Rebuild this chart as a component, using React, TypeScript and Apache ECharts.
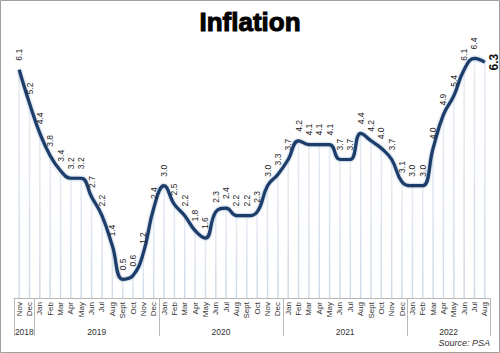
import React, { useEffect, useRef } from "react";
import * as echarts from "echarts";

const months: string[] = [
  "Nov", "Dec",
  "Jan", "Feb", "Mar", "Apr", "May", "Jun", "Jul", "Aug", "Sept", "Oct", "Nov", "Dec",
  "Jan", "Feb", "Mar", "Apr", "May", "Jun", "Jul", "Aug", "Sept", "Oct", "Nov", "Dec",
  "Jan", "Feb", "Mar", "Apr", "May", "Jun", "Jul", "Aug", "Sept", "Oct", "Nov", "Dec",
  "Jan", "Feb", "Mar", "Apr", "May", "Jun", "Jul", "Aug",
];

const inflation: number[] = [
  6.1, 5.2,
  4.4, 3.8, 3.4, 3.2, 3.2, 2.7, 2.2, 1.4, 0.5, 0.6, 1.2, 2.4,
  3.0, 2.5, 2.2, 1.8, 1.6, 2.3, 2.4, 2.2, 2.2, 2.3, 3.0, 3.3,
  3.7, 4.2, 4.1, 4.1, 4.1, 3.7, 3.7, 4.4, 4.2, 4.0, 3.7, 3.1,
  3.0, 3.0, 4.0, 4.9, 5.4, 6.1, 6.4, 6.3,
];

const years: string[] = ["2018", "2019", "2020", "2021", "2022"];
const yearCenters: number[] = [1, 8, 20, 32, 42];
const yearBoundaries: number[] = [0, 2, 14, 26, 38, 46];

export default function App() {
  const ref = useRef<HTMLDivElement>(null);
  useEffect(() => {
    if (!ref.current) return;
    const chart = echarts.init(ref.current, null, { renderer: "svg" });
    const font = "Liberation Sans, Arial, sans-serif";
    const last = inflation.length - 1;
    const lineData = inflation.map((v, i) =>
      i === last
        ? {
            value: v,
            label: {
              show: true,
              position: "right",
              rotate: 90,
              align: "center",
              verticalAlign: "middle",
              distance: 9,
              fontSize: 12,
              fontWeight: "bold",
              color: "#111",
            },
          }
        : v
    );
    chart.setOption({
      animation: false,
      backgroundColor: "#ffffff",
      title: {
        text: "Inflation",
        left: "center",
        top: 4,
        textStyle: {
          fontSize: 26,
          fontWeight: 900,
          fontFamily: font,
          color: "#000",
          textBorderColor: "#000",
          textBorderWidth: 1,
        },
      },
      grid: { left: 14, right: 10, top: 36, bottom: 55 },
      xAxis: [
        {
          type: "category",
          data: months,
          boundaryGap: true,
          axisLine: { show: true, lineStyle: { color: "#b8b8b8", width: 1 } },
          axisTick: { show: false },
          axisLabel: {
            interval: 0,
            rotate: 90,
            fontSize: 8,
            fontFamily: font,
            color: "#333",
            margin: 4,
          },
          splitLine: { show: false },
        },
        {
          type: "value",
          min: 0,
          max: 46,
          position: "bottom",
          axisLine: { show: false },
          splitLine: { show: false },
          axisTick: {
            show: true,
            customValues: yearBoundaries,
            length: 38,
            lineStyle: { color: "#b8b8b8", width: 1 },
          },
          axisLabel: {
            show: true,
            customValues: yearCenters,
            formatter: (v: number) => {
              const idx = yearCenters.indexOf(v);
              return idx >= 0 ? years[idx] : "";
            },
            fontSize: 8.5,
            fontFamily: font,
            color: "#333",
            margin: 29,
          },
        },
      ],
      yAxis: {
        type: "value",
        min: 0,
        max: 7,
        show: false,
        splitLine: { show: false },
      },
      series: [
        {
          type: "bar",
          xAxisIndex: 0,
          data: inflation,
          barWidth: 1.5,
          itemStyle: {
            color: new echarts.graphic.LinearGradient(0, 0, 0, 1, [
              { offset: 0, color: "#e6ecf3" },
              { offset: 1, color: "#cfdae6" },
            ]),
          },
          silent: true,
        },
        {
          type: "line",
          xAxisIndex: 0,
          data: lineData,
          smooth: 0.45,
          symbol: "circle",
          symbolSize: 0.1,
          showSymbol: true,
          itemStyle: { color: "#1e3d6b" },
          lineStyle: {
            color: "#1e3d6b",
            width: 3.2,
            shadowColor: "rgba(60,100,150,0.6)",
            shadowBlur: 2,
          },
          label: {
            show: true,
            position: "top",
            rotate: 90,
            align: "left",
            verticalAlign: "middle",
            distance: 9,
            fontSize: 8.5,
            fontFamily: font,
            color: "#222",
            formatter: (p: any) => Number(p.value).toFixed(1),
          },
        },
      ],
      graphic: [
        {
          type: "rect",
          shape: { x: 0.5, y: 0.5, width: 499, height: 352 },
          style: { fill: "none", stroke: "#a0a0a0", lineWidth: 1 },
          silent: true,
        },
        {
          type: "text",
          right: 10,
          bottom: 6,
          style: {
            text: "Source: PSA",
            fontSize: 9,
            fontStyle: "italic",
            fontFamily: font,
            fill: "#333",
          },
        },
      ],
    });
    return () => chart.dispose();
  }, []);
  return (
    <div
      ref={ref}
      style={{ position: "absolute", left: 0, top: 0, width: 500, height: 353 }}
    />
  );
}
